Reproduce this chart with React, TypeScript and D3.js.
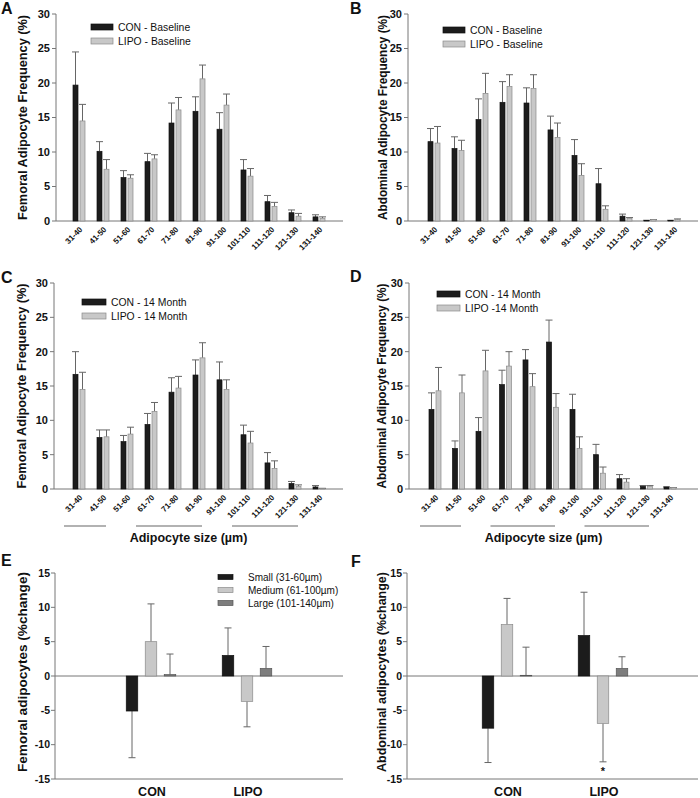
import * as d3 from 'd3';
import React from 'react';

const sizes = ['31-40', '41-50', '51-60', '61-70', '71-80', '81-90', '91-100', '101-110', '111-120', '121-130', '131-140'];

// Femoral, baseline
const femBaseCon = [19.7, 10.1, 6.3, 8.6, 14.2, 15.9, 13.3, 7.4, 2.8, 1.2, 0.6];
const femBaseConErr = [24.5, 11.5, 7.3, 9.8, 17.1, 18.0, 15.7, 8.9, 3.7, 1.6, 0.9];
const femBaseLipo = [14.5, 7.5, 6.2, 9.0, 16.1, 20.6, 16.8, 6.5, 2.1, 0.7, 0.4];
const femBaseLipoErr = [16.9, 8.9, 6.7, 9.6, 17.9, 22.6, 18.4, 7.6, 2.7, 1.1, 0.6];

// Abdominal, baseline
const abdBaseCon = [11.5, 10.5, 14.7, 17.2, 17.1, 13.2, 9.5, 5.4, 0.7, 0.1, 0.1];
const abdBaseConErr = [13.4, 12.2, 17.7, 20.2, 19.3, 15.2, 11.8, 7.6, 1.0, 0.1, 0.1];
const abdBaseLipo = [11.3, 10.2, 18.5, 19.5, 19.2, 12.1, 6.6, 1.7, 0.4, 0.2, 0.2];
const abdBaseLipoErr = [13.7, 11.7, 21.4, 21.2, 21.2, 14.2, 8.3, 2.2, 0.5, 0.2, 0.3];

// Femoral, 14 month
const fem14Con = [16.7, 7.5, 6.9, 9.4, 14.1, 16.6, 15.9, 7.9, 3.8, 0.8, 0.3];
const fem14ConErr = [20.0, 8.6, 7.8, 11.0, 16.2, 18.8, 18.5, 9.3, 5.3, 1.1, 0.5];
const fem14Lipo = [14.5, 7.6, 8.0, 11.3, 14.7, 19.1, 14.5, 6.7, 3.0, 0.4, 0.1];
const fem14LipoErr = [17.0, 8.6, 9.0, 12.6, 16.4, 21.3, 15.9, 8.4, 4.1, 0.6, 0.1];

// Abdominal, 14 month
const abd14Con = [11.6, 5.9, 8.4, 15.2, 18.8, 21.4, 11.6, 5.0, 1.5, 0.4, 0.3];
const abd14ConErr = [14.0, 7.0, 10.4, 17.3, 20.3, 24.6, 13.8, 6.5, 2.1, 0.5, 0.3];
const abd14Lipo = [14.3, 14.0, 17.2, 17.9, 14.9, 11.9, 5.9, 2.3, 1.0, 0.4, 0.2];
const abd14LipoErr = [17.7, 16.6, 20.2, 20.0, 16.8, 13.9, 7.6, 3.2, 1.5, 0.5, 0.2];

// % change by size class
const groups = ['CON', 'LIPO'];
const classes = ['Small (31-60µm)', 'Medium (61-100µm)', 'Large (101-140µm)'];
const femChange = [[-5.1, 5.0, 0.2], [3.0, -3.7, 1.1]];
const femChangeErr = [[-11.9, 10.5, 3.2], [7.0, -7.4, 4.3]];
const abdChange = [[-7.6, 7.5, 0.1], [5.9, -6.9, 1.1]];
const abdChangeErr = [[-12.6, 11.3, 4.2], [12.2, -12.5, 2.8]];

const font = 'Arial, "Liberation Sans", Helvetica, sans-serif';
const conFill = '#1c1c1c';
const lipoFill = '#c8c8c8';
const largeFill = '#7d7d7d';
const axisCol = '#777';
const errCol = '#666';

type HistProps = {
  letter: string; lx: number; ly: number;
  axisX: number; xEnd: number; yTop: number; yZero: number;
  c0: number; step: number;
  con: number[]; conErr: number[]; lipo: number[]; lipoErr: number[];
  legend: [string, string]; legX: number; legY: number; legW: number;
  ylabel: string; ylabelX: number;
  grouped?: boolean;
};

function Hist(p: HistProps) {
  const x = d3.scaleBand<string>()
    .domain(sizes)
    .range([p.c0 - p.step / 2, p.c0 - p.step / 2 + p.step * sizes.length]);
  const y = d3.scaleLinear().domain([0, 30]).range([p.yZero, p.yTop]);
  const cx = (s: string) => (x(s) as number) + x.bandwidth() / 2;
  const bw = 5;
  const series = [
    { vals: p.con, errs: p.conErr, fill: conFill, stroke: '#111', off: -6 },
    { vals: p.lipo, errs: p.lipoErr, fill: lipoFill, stroke: '#8a8a8a', off: 1 },
  ];
  const groupLines = [[0, 2], [3, 6], [7, 10]];
  return (
    <g fontFamily={font} fill="#111">
      <text x={p.lx} y={p.ly} fontSize={16} fontWeight="bold">{p.letter}</text>
      <line x1={p.axisX} x2={p.axisX} y1={p.yTop} y2={p.yZero} stroke={axisCol} />
      <line x1={p.axisX} x2={p.xEnd} y1={p.yZero} y2={p.yZero} stroke={axisCol} />
      {y.ticks(6).map(t => (
        <g key={t}>
          <line x1={p.axisX - 4} x2={p.axisX} y1={y(t)} y2={y(t)} stroke={axisCol} />
          <text x={p.axisX - 6} y={y(t)} dy="0.35em" textAnchor="end" fontSize={11} fontWeight="bold">{t}</text>
        </g>
      ))}
      {sizes.map(s => (
        <text key={s} fontSize={8} fontWeight="bold" textAnchor="end"
          transform={`translate(${cx(s) + 4},${p.yZero + 9}) rotate(-45)`}>{s}</text>
      ))}
      {series.map((se, k) => (
        <g key={k}>
          {sizes.map((s, i) => {
            const bx = cx(s) + se.off;
            const mid = bx + bw / 2;
            return (
              <g key={s}>
                <line x1={mid} x2={mid} y1={y(se.vals[i])} y2={y(se.errs[i])} stroke={errCol} />
                <line x1={mid - 3.5} x2={mid + 3.5} y1={y(se.errs[i])} y2={y(se.errs[i])} stroke={errCol} />
                <rect x={bx} y={y(se.vals[i])} width={bw} height={p.yZero - y(se.vals[i])}
                  fill={se.fill} stroke={se.stroke} strokeWidth={0.7} />
              </g>
            );
          })}
        </g>
      ))}
      {p.legend.map((t, i) => (
        <g key={t}>
          <rect x={p.legX} y={p.legY + i * 14 - 3} width={p.legW} height={6}
            fill={i === 0 ? conFill : lipoFill} stroke={i === 0 ? '#111' : '#8a8a8a'} strokeWidth={0.7} />
          <text x={p.legX + p.legW + 5} y={p.legY + i * 14} dy="0.35em" fontSize={10.4}>{t}</text>
        </g>
      ))}
      <text transform={`translate(${p.ylabelX},${(p.yTop + p.yZero) / 2}) rotate(-90)`}
        textAnchor="middle" dy="0.35em" fontSize={12.5} fontWeight="bold"
        textLength={205} lengthAdjust="spacingAndGlyphs">{p.ylabel}</text>
      {p.grouped && (
        <g>
          {groupLines.map(([a, b], i) => (
            <line key={i} x1={cx(sizes[a]) - 15} x2={cx(sizes[b]) - 21}
              y1={p.yZero + 37} y2={p.yZero + 37} stroke="#999" strokeWidth={1.5} />
          ))}
          <text x={(p.axisX + p.xEnd) / 2 - 10} y={p.yZero + 53} textAnchor="middle"
            fontSize={12.5} fontWeight="bold">Adipocyte size (µm)</text>
        </g>
      )}
    </g>
  );
}

type ChangeProps = {
  letter: string; lx: number; ly: number;
  axisX: number; xEnd: number; yTop: number; yBot: number;
  g0: number; gStep: number;
  vals: number[][]; errs: number[][];
  ylabel: string; ylabelX: number;
  legend?: boolean; star?: boolean;
};

function Change(p: ChangeProps) {
  const y = d3.scaleLinear().domain([-15, 15]).range([p.yBot, p.yTop]);
  const gx = d3.scaleBand<string>().domain(groups)
    .range([p.g0 - p.gStep / 2, p.g0 + p.gStep * 1.5]);
  const sub = d3.scalePoint<string>().domain(classes).range([-19, 19]);
  const fills = [conFill, lipoFill, largeFill];
  const strokes = ['#111', '#8a8a8a', '#555'];
  const bw = 11.5;
  return (
    <g fontFamily={font} fill="#111">
      <text x={p.lx} y={p.ly} fontSize={16} fontWeight="bold">{p.letter}</text>
      <line x1={p.axisX} x2={p.axisX} y1={p.yTop} y2={p.yBot} stroke={axisCol} />
      <line x1={p.axisX} x2={p.xEnd} y1={y(0)} y2={y(0)} stroke={axisCol} />
      <line x1={p.axisX} x2={p.xEnd} y1={p.yBot} y2={p.yBot} stroke={axisCol} />
      {y.ticks(6).map(t => (
        <g key={t}>
          <line x1={p.axisX - 4} x2={p.axisX} y1={y(t)} y2={y(t)} stroke={axisCol} />
          <text x={p.axisX - 5} y={y(t)} dy="0.35em" textAnchor="end" fontSize={10.5} fontWeight="bold">{t}</text>
        </g>
      ))}
      {groups.map((g, gi) => {
        const c = (gx(g) as number) + gx.bandwidth() / 2;
        return (
          <g key={g}>
            {classes.map((cl, ci) => {
              const v = p.vals[gi][ci];
              const e = p.errs[gi][ci];
              const bx = c + (sub(cl) as number) - bw / 2;
              const mid = bx + bw / 2;
              return (
                <g key={cl}>
                  <line x1={mid} x2={mid} y1={y(v)} y2={y(e)} stroke={errCol} />
                  <line x1={mid - 3.5} x2={mid + 3.5} y1={y(e)} y2={y(e)} stroke={errCol} />
                  <rect x={bx} y={Math.min(y(v), y(0))} width={bw} height={Math.abs(y(v) - y(0))}
                    fill={fills[ci]} stroke={strokes[ci]} strokeWidth={0.7} />
                </g>
              );
            })}
            <text x={c + 1} y={p.yBot + 17} textAnchor="middle" fontSize={12.5} fontWeight="bold">{g}</text>
          </g>
        );
      })}
      {p.star && (
        <text x={(gx('LIPO') as number) + gx.bandwidth() / 2} y={y(-13.5)} dy="0.6em"
          textAnchor="middle" fontSize={11} fontWeight="bold">*</text>
      )}
      {p.legend && classes.map((cl, i) => (
        <g key={cl}>
          <rect x={218} y={577 + i * 13 - 2.5} width={15} height={5} fill={fills[i]} stroke={strokes[i]} strokeWidth={0.7} />
          <text x={248} y={577 + i * 13} dy="0.35em" fontSize={10}>{cl}</text>
        </g>
      ))}
      <text transform={`translate(${p.ylabelX},${(p.yTop + p.yBot) / 2 - 4}) rotate(-90)`}
        textAnchor="middle" dy="0.35em" fontSize={13} fontWeight="bold"
        textLength={200} lengthAdjust="spacingAndGlyphs">{p.ylabel}</text>
    </g>
  );
}

export default function App() {
  return (
    <svg width={700} height={798} style={{ position: 'absolute', left: 0, top: 0, background: '#fff' }}>
      <rect width={700} height={798} fill="#fff" />
      <Hist letter="A" lx={1} ly={14} axisX={56} xEnd={343} yTop={14} yZero={221} c0={79} step={24}
        con={femBaseCon} conErr={femBaseConErr} lipo={femBaseLipo} lipoErr={femBaseLipoErr}
        legend={['CON - Baseline', 'LIPO - Baseline']} legX={91} legY={27} legW={22}
        ylabel="Femoral Adipocyte Frequency (%)" ylabelX={23} />
      <Hist letter="B" lx={350} ly={14} axisX={408} xEnd={698} yTop={14} yZero={221} c0={434} step={24}
        con={abdBaseCon} conErr={abdBaseConErr} lipo={abdBaseLipo} lipoErr={abdBaseLipoErr}
        legend={['CON - Baseline', 'LIPO - Baseline']} legX={443} legY={30} legW={22}
        ylabel="Abdominal Adipocyte Frequency (%)" ylabelX={383} />
      <Hist letter="C" lx={1} ly={283} axisX={54} xEnd={343} yTop={283} yZero={489} c0={79} step={24}
        con={fem14Con} conErr={fem14ConErr} lipo={fem14Lipo} lipoErr={fem14LipoErr}
        legend={['CON - 14 Month', 'LIPO - 14 Month']} legX={82} legY={302} legW={24}
        ylabel="Femoral Adipocyte Frequency (%)" ylabelX={22} grouped />
      <Hist letter="D" lx={350} ly={282} axisX={409} xEnd={698} yTop={283} yZero={489} c0={435} step={23.5}
        con={abd14Con} conErr={abd14ConErr} lipo={abd14Lipo} lipoErr={abd14LipoErr}
        legend={['CON - 14 Month', 'LIPO -14 Month']} legX={437} legY={294} legW={23}
        ylabel="Abdominal Adipocyte Frequency (%)" ylabelX={382} grouped />
      <Change letter="E" lx={1} ly={566} axisX={55} xEnd={343} yTop={573} yBot={779} g0={151} gStep={96}
        vals={femChange} errs={femChangeErr} ylabel="Femoral adipocytes (%change)" ylabelX={22} legend />
      <Change letter="F" lx={351} ly={567} axisX={407} xEnd={698} yTop={573} yBot={779} g0={507} gStep={96}
        vals={abdChange} errs={abdChangeErr} ylabel="Abdominal adipocytes (%change)" ylabelX={381} star />
    </svg>
  );
}
